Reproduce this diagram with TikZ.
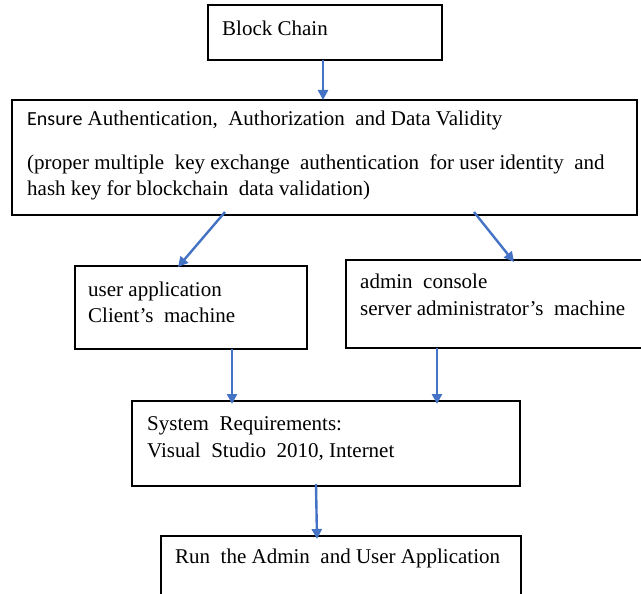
\documentclass[tikz,border=0pt]{standalone}
\usepackage{fontspec}
\setmainfont{Liberation Serif}
\newfontfamily\calibri{Carlito}
\usetikzlibrary{arrows.meta,positioning}
\definecolor{arrowblue}{RGB}{68,114,196}
\tikzset{
  box/.style={draw, line width=1.1pt, inner sep=0pt, outer sep=0pt},
  txt/.style={anchor=base west, inner sep=0pt, font=\fontsize{21}{25}\selectfont},
  link/.style={draw=arrowblue, line width=2.4pt, -{Triangle[length=10pt,width=10pt]}}
}

\begin{document}
\begin{tikzpicture}[x=1pt,y=-1pt]
\useasboundingbox (0,0) rectangle (641,594);
% boxes
\node[box, minimum width=234pt, minimum height=55pt] (block) at (325,32.5) {};
\node[box, minimum width=625pt, minimum height=115pt] (auth) at (324.5,157.5) {};
\node[box, minimum width=232pt, minimum height=83pt] (user) at (191,307.5) {};
\node[box, minimum width=300pt, minimum height=88pt] (admin) at (496,304) {};
\node[box, minimum width=388pt, minimum height=85pt] (sysreq) at (326,443.5) {};
\node[box, minimum width=360pt, minimum height=70pt] (run) at (341,571) {};
% texts
\node[txt] (blocktxt) at (222,36) {Block Chain};
\node[txt] (authtxta) at (27,126) {{\calibri\fontsize{20}{24}\selectfont Ensure} Authentication,~ Authorization~ and Data Validity};
\node[txt] (authtxtb) at (27,169) {(proper multiple~ key exchange~ authentication~ for user identity~ and};
\node[txt] (authtxtc) at (27,196) {hash key for blockchain~ data validation)};
\node[txt] (usertxta) at (88,296) {user application};
\node[txt] (usertxtb) at (88,322) {Client's~ machine};
\node[txt] (admintxta) at (360,288) {admin~ console};
\node[txt] (admintxtb) at (360,315) {server administrator's~ machine};
\node[txt] (systxta) at (147,430) {System~ Requirements:};
\node[txt] (systxtb) at (147,457) {Visual~ Studio~ 2010, Internet};
\node[txt] (runtxt) at (175,563) {Run~ the Admin~ and User Application};
% arrows
\draw[link] ([xshift=-2pt]block.south) -- ([xshift=-1.5pt]auth.north);
\draw[link] ([xshift=-99.5pt,yshift=3pt]auth.south) -- ([xshift=-13pt,yshift=-1pt]user.north);
\draw[link] ([xshift=149.5pt,yshift=3pt]auth.south) -- ([xshift=18pt,yshift=-2pt]admin.north);
\draw[link] ([xshift=41pt]user.south) -- ([xshift=-94pt,yshift=-3pt]sysreq.north);
\draw[link] ([xshift=-59pt]admin.south) -- ([xshift=111pt,yshift=-3pt]sysreq.north);
\draw[link] ([xshift=-10pt,yshift=2pt]sysreq.south) -- ([xshift=-24pt,yshift=-3pt]run.north);
\end{tikzpicture}
\end{document}
